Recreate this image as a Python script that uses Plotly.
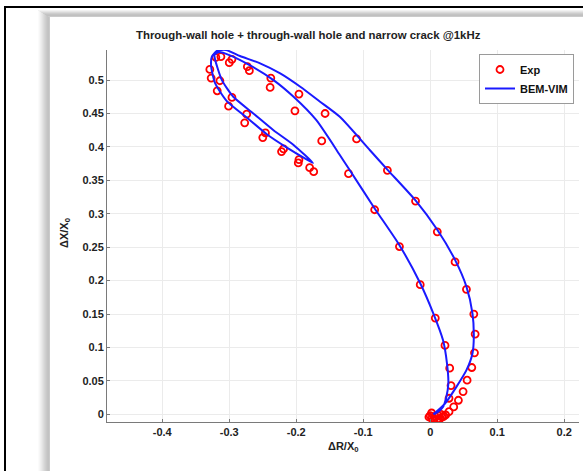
import plotly.graph_objects as go

# ---------------- data ----------------
exp_r = [-0.320, -0.3125, -0.296, -0.300, -0.273, -0.270, -0.238, -0.239, -0.196, -0.202,
         -0.157, -0.162, -0.110, -0.122, -0.064, -0.083, -0.022, -0.046, 0.0105, -0.015,
         0.037, 0.054, 0.0075, 0.065, 0.067, 0.022, 0.066, 0.062, 0.029, 0.055,
         0.031, 0.049, 0.028, 0.042, 0.035, 0.028, 0.023,
         -0.329, -0.327, -0.314, -0.318, -0.296, -0.301, -0.274, -0.277, -0.246, -0.250,
         -0.219, -0.222, -0.196, -0.197, -0.180, -0.174,
         0.000, 0.003, 0.006, 0.010, 0.014, 0.018, 0.002, 0.007, 0.012, 0.016, 0.020, -0.002, 0.004]
exp_x = [0.534, 0.535, 0.531, 0.526, 0.520, 0.514, 0.503, 0.489, 0.479, 0.454,
         0.450, 0.409, 0.412, 0.360, 0.365, 0.306, 0.319, 0.251, 0.273, 0.194,
         0.228, 0.187, 0.144, 0.150, 0.120, 0.103, 0.092, 0.070, 0.069, 0.051,
         0.043, 0.034, 0.024, 0.021, 0.011, 0.004, -0.001,
         0.516, 0.503, 0.499, 0.484, 0.474, 0.461, 0.449, 0.436, 0.421, 0.414,
         0.397, 0.393, 0.381, 0.376, 0.369, 0.363,
         -0.002, -0.005, -0.007, -0.008, -0.007, -0.004, 0.002, -0.003, -0.002, 0.000, -0.003, -0.004, -0.009]

sim_r = [0.005, 0.012, 0.019, 0.024, 0.027, 0.025, 0.019, 0.0045, -0.015, -0.046,
         -0.083, -0.122, -0.135, -0.170, -0.204, -0.234, -0.269, -0.299, -0.315, -0.322,
         -0.321, -0.311, -0.294, -0.264, -0.234, -0.204, -0.175,
         -0.184, -0.214, -0.244, -0.274, -0.304, -0.321, -0.327, -0.326, -0.318, -0.305,
         -0.284, -0.254, -0.224, -0.194, -0.165, -0.135, -0.090, -0.063, -0.022, 0.0105,
         0.037, 0.054, 0.063, 0.065, 0.063, 0.054, 0.039, 0.022, 0.0045]
sim_x = [0.000, 0.004, 0.011, 0.026, 0.046, 0.076, 0.111, 0.151, 0.196, 0.253,
         0.308, 0.368, 0.388, 0.440, 0.475, 0.500, 0.522, 0.537, 0.542, 0.538,
         0.530, 0.500, 0.475, 0.450, 0.425, 0.403, 0.376,
         0.381, 0.399, 0.419, 0.444, 0.469, 0.495, 0.520, 0.535, 0.544, 0.545,
         0.536, 0.525, 0.510, 0.490, 0.468, 0.445, 0.395, 0.365, 0.320, 0.276,
         0.231, 0.191, 0.151, 0.116, 0.091, 0.066, 0.041, 0.016, 0.000]

x_ticks = [-0.4, -0.3, -0.2, -0.1, 0, 0.1, 0.2]
x_tick_labels = ["-0.4", "-0.3", "-0.2", "-0.1", "0", "0.1", "0.2"]
y_ticks = [0, 0.05, 0.1, 0.15, 0.2, 0.25, 0.3, 0.35, 0.4, 0.45, 0.5]
y_tick_labels = ["0", "0.05", "0.1", "0.15", "0.2", "0.25", "0.3", "0.35", "0.4", "0.45", "0.5"]

title_text = "Through-wall hole + through-wall hole and narrow crack @1kHz"

# ---------------- layout geometry ----------------
W, H = 583, 471
ML, MR, MT, MB = 107, 4, 50, 49
PW, PH = W - ML - MR, H - MT - MB

def px(x):
    return (x - ML) / PW

def py(y):
    return (H - MB - y) / PH

FONT = "Liberation Sans, Arial, sans-serif"

fig = go.Figure()
fig.add_trace(go.Scatter(
    x=exp_r, y=exp_x, mode="markers", name="<b>Exp</b>",
    marker=dict(symbol="circle-open", size=7, color="#ff0000", line=dict(width=1.8, color="#ff0000")),
))
fig.add_trace(go.Scatter(
    x=sim_r, y=sim_x, mode="lines", name="<b>BEM-VIM</b>",
    line=dict(color="#1a1aff", width=2, shape="spline", smoothing=0.6),
))

shapes = []
# shadow gradients
left_cols = ["#fbfbfb", "#f6f6f6", "#f0f0f0", "#eaeaea", "#e3e3e3", "#dcdcdc",
             "#d5d5d5", "#cfcfcf", "#c9c9c9", "#c4c4c4", "#c2c2c2", "#cacaca"]
for i, c in enumerate(left_cols):
    x0 = 38 + i
    shapes.append(dict(type="rect", xref="paper", yref="paper",
                       x0=px(x0), x1=px(x0 + 1), y0=py(H), y1=py(10 + i * 0.55),
                       fillcolor=c, line=dict(width=0), layer="below"))
top_cols = ["#f2f2f2", "#e6e6e6", "#d9d9d9", "#cdcdcd", "#c4c4c4", "#c0c0c0", "#cbcbcb"]
for i, c in enumerate(top_cols):
    y0 = 10 + i
    shapes.append(dict(type="rect", xref="paper", yref="paper",
                       x0=px(38 + i * 1.7), x1=px(W), y0=py(y0 + 1), y1=py(y0),
                       fillcolor=c, line=dict(width=0), layer="below"))
# document frame lines
shapes.append(dict(type="line", xref="paper", yref="paper",
                   x0=px(5), x1=px(5), y0=py(H), y1=py(6),
                   line=dict(color="black", width=2)))
shapes.append(dict(type="line", xref="paper", yref="paper",
                   x0=px(4), x1=px(W), y0=py(7), y1=py(7),
                   line=dict(color="black", width=2)))

annotations = [
    dict(text="<b>" + title_text + "</b>", xref="paper", yref="paper",
         x=px(308), y=py(35), xanchor="center", yanchor="middle", showarrow=False,
         font=dict(family=FONT, size=11.4, color="#222222")),
    dict(text="<b>ΔX/X<sub>0</sub></b>", xref="paper", yref="paper",
         x=px(65), y=py(233), xanchor="center", yanchor="middle", showarrow=False,
         textangle=-90, font=dict(family=FONT, size=11, color="#222222")),
    dict(text="<b>ΔR/X<sub>0</sub></b>", xref="paper", yref="paper",
         x=px(343), y=py(447), xanchor="center", yanchor="middle", showarrow=False,
         font=dict(family=FONT, size=11, color="#222222")),
]

fig.update_layout(
    width=W, height=H,
    margin=dict(l=ML, r=MR, t=MT, b=MB, pad=0),
    paper_bgcolor="white", plot_bgcolor="white",
    font=dict(family=FONT, size=11, color="#222222"),
    shapes=shapes, annotations=annotations,
    showlegend=True,
    legend=dict(x=px(574), y=py(54), xanchor="right", yanchor="top",
                bgcolor="white", bordercolor="#9a9a9a", borderwidth=1,
                font=dict(family=FONT, size=11, color="#111111"),
                itemwidth=30, tracegroupgap=0),
    xaxis=dict(range=[-0.4825, 0.222], tickvals=x_ticks, ticktext=[f"<b>{t}</b>" for t in x_tick_labels],
               showgrid=True, gridcolor="#ebebeb", gridwidth=1, zeroline=False,
               showline=True, linecolor="#7a7a7a", linewidth=1, mirror=False,
               ticks="inside", ticklen=3, tickcolor="#7a7a7a",
               tickfont=dict(family=FONT, size=11, color="#222222")),
    yaxis=dict(range=[-0.0115, 0.545], tickvals=y_ticks, ticktext=[f"<b>{t}</b>" for t in y_tick_labels],
               showgrid=True, gridcolor="#ebebeb", gridwidth=1, zeroline=False,
               showline=True, linecolor="#7a7a7a", linewidth=1, mirror=False,
               ticks="inside", ticklen=3, tickcolor="#7a7a7a",
               tickfont=dict(family=FONT, size=11, color="#222222")),
)

fig.write_html("out.html", config={"displayModeBar": False},
               post_script="document.body.style.margin='0';document.body.style.padding='0';")
